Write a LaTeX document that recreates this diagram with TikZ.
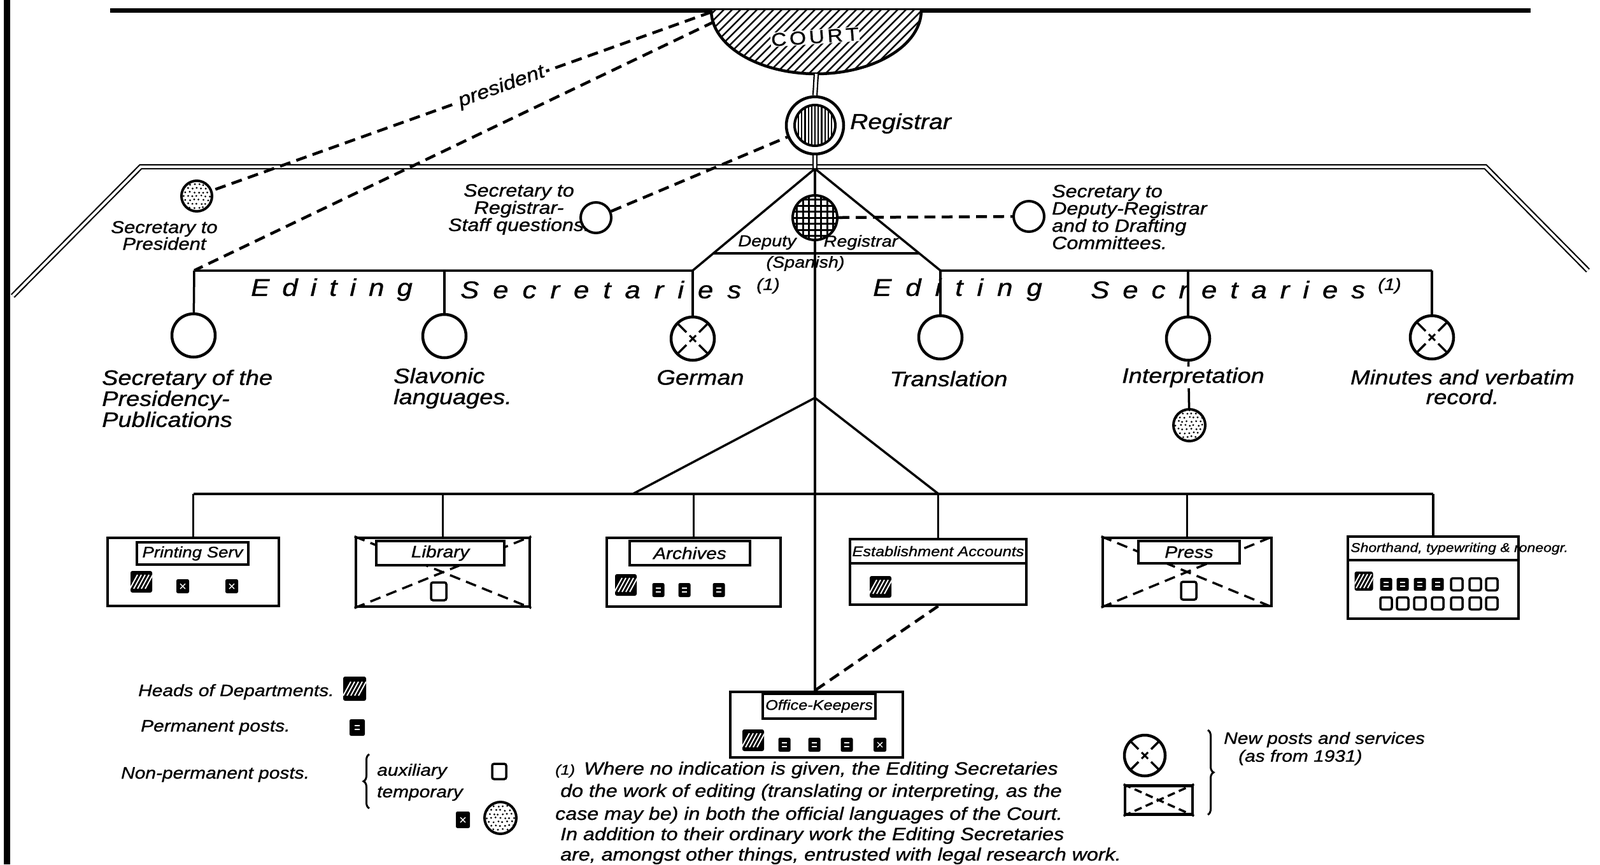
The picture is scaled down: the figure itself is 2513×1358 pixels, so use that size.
\documentclass[tikz,border=0pt]{standalone}
\usepackage{fontspec}
\setmainfont{Liberation Sans}[FakeStretch=1.15, FakeBold=1]
\usetikzlibrary{calc,decorations.pathreplacing}
\makeatletter
\newcommand\spreadword[2]{\@tfor\sw@c:=#2\do{\sw@c\hspace{#1}}\unskip}
\makeatother
\newcommand\myfs[2]{\fontsize{#1}{#2}\selectfont}
\begin{document}
\begin{tikzpicture}[x=1pt,y=-1pt,
  ln/.style={line width=3.5pt},
  dsh/.style={line width=4.5pt, dash pattern=on 17pt off 10pt},
  dblln/.style={double, line width=2.2pt, double distance=4pt},
  postc/.style={circle, draw, line width=4.5pt, minimum size=68pt, inner sep=0pt, fill=white},
  newpost/.style={postc, path picture={
    \foreach \a in {45,135,225,315}
      \draw[black, line width=3.5pt] ($(path picture bounding box.center)+(\a:14pt)$) -- ($(path picture bounding box.center)+(\a:40pt)$);
    \draw[black, line width=3pt] ($(path picture bounding box.center)+(-5pt,-5pt)$) -- ($(path picture bounding box.center)+(5pt,5pt)$)
      ($(path picture bounding box.center)+(-5pt,5pt)$) -- ($(path picture bounding box.center)+(5pt,-5pt)$);
  }},
  stip/.style={circle, draw, line width=4pt, inner sep=0pt, fill=white, path picture={
    \foreach \i in {-5,...,5}{\foreach \j in {-5,...,5}{
      \pgfmathsetmacro\xx{\i*7+3.5*mod(\j+10,2)+rnd*2-1}
      \pgfmathsetmacro\yy{\j*6+rnd*2-1}
      \fill[black] ($(path picture bounding box.center)+(\xx pt,\yy pt)$) circle (1.6pt);}}
  }},
  regst/.style={circle, draw, line width=4.5pt, minimum size=90pt, inner sep=0pt, fill=white, path picture={
    \draw[black, line width=4pt] (path picture bounding box.center) circle (32pt);
    \begin{scope}
      \clip (path picture bounding box.center) circle (31pt);
      \foreach \k in {-6,...,6}
        \draw[black, line width=2.2pt] ($(path picture bounding box.center)+(\k*5.2pt,-40pt)$) -- ++(0pt,80pt);
    \end{scope}
  }},
  depst/.style={circle, draw, line width=4pt, minimum size=70pt, inner sep=0pt, fill=white, path picture={
    \foreach \k in {-4,...,4}{
      \draw[black, line width=3pt] ($(path picture bounding box.center)+(\k*9.5pt,-40pt)$) -- ++(0pt,80pt);
      \draw[black, line width=3pt] ($(path picture bounding box.center)+(-40pt,\k*9.5pt)$) -- ++(80pt,0pt);}
  }},
  dept/.style={rectangle, draw, line width=4.5pt, inner sep=0pt},
  tabst/.style={rectangle, draw, line width=3.5pt, fill=white, inner sep=0pt, font=\myfs{26}{26}\itshape},
  headic/.style={rectangle, fill=black, rounded corners=3pt, minimum width=34pt, minimum height=34pt, inner sep=0pt,
    path picture={\foreach \k in {-2,...,2}
      \draw[white, line width=2pt] ($(path picture bounding box.center)+(\k*6pt-6pt,-11pt)$) -- ++(12pt,22pt);}},
  permic/.style={rectangle, fill=black, rounded corners=2.5pt, minimum width=19pt, minimum height=22pt, inner sep=0pt,
    path picture={\draw[white, line width=1.6pt] ($(path picture bounding box.center)+(-4pt,3pt)$) -- ++(8pt,0pt)
      ($(path picture bounding box.center)+(-4pt,-3pt)$) -- ++(8pt,0pt);}},
  auxic/.style={rectangle, draw, line width=3.5pt, fill=white, rounded corners=3pt, minimum width=20pt, minimum height=24pt, inner sep=0pt},
  tempic/.style={rectangle, fill=black, rounded corners=2.5pt, minimum width=20pt, minimum height=22pt, inner sep=0pt,
    path picture={\draw[white, line width=1.4pt] ($(path picture bounding box.center)+(-4pt,-4pt)$) -- ++(8pt,8pt)
      ($(path picture bounding box.center)+(-4pt,4pt)$) -- ++(8pt,-8pt);}},
  lbl/.style={font=\myfs{33}{33}\itshape, inner sep=0pt},
  sm/.style={font=\myfs{28}{26}\itshape, inner sep=0pt},
  lg/.style={font=\myfs{26}{26}\itshape, inner sep=0pt},
  fn/.style={font=\myfs{28}{34}\itshape, inner sep=0pt, anchor=base west},
  edt/.style={font=\myfs{38}{38}\itshape, inner sep=0pt, anchor=west},
  note/.style={font=\myfs{26}{26}\itshape, inner sep=0pt, anchor=west},
  dl/.style={font=\myfs{25}{25}\itshape, inner sep=0pt}
]
\useasboundingbox (0,0) rectangle (2513,1358);
\fill[white] (0,0) rectangle (2513,1358);

% frame lines
\draw[line width=10pt] (11,0) -- (11,1358);
\draw[line width=7pt] (173,16) -- (2404,16);
\draw[dblln] (20,465) -- (221,262) -- (2333,262) -- (2494,425);

% court
\fill[white] (1117,16) arc[start angle=180, end angle=360, x radius=165pt, y radius=100pt] -- cycle;
\begin{scope}
  \clip (1117,16) arc[start angle=180, end angle=360, x radius=165pt, y radius=100pt] -- cycle;
  \foreach \k in {0,...,42} \draw[line width=2.5pt] ({995+\k*13},118) -- ++(110,-110);
\end{scope}
\draw[line width=4.5pt] (1117,16) arc[start angle=180, end angle=360, x radius=165pt, y radius=100pt];
\node[font=\myfs{29}{29}, fill=white, inner sep=1pt, rotate=4] (court) at (1280,58) {C\,O\,U\,R\,T};
\coordinate (courtbot) at (1282,116);
\coordinate (cl1) at (1117,19);
\coordinate (cl2) at (1122,34);

% registrar and deputy
\node[regst] (reg) at (1280,197) {};
\node[anchor=west, font=\myfs{34}{34}\itshape, inner sep=0pt] (reglbl) at (1335,194) {Registrar};
\coordinate (apex) at (1280,265);
\draw[dblln] (courtbot) -- (reg.north);
\draw[dblln] (reg.south) -- (apex);

\coordinate (lbarR) at (1088,425);
\coordinate (lbarL) at (305,425);
\coordinate (rbarL) at (1477,425);
\coordinate (rbarR) at (2249,425);
\draw[ln] (apex) -- (lbarR) -- (lbarL);
\draw[ln] (apex) -- (rbarL) -- (rbarR);
\draw[ln] ($(apex)!0.83!(lbarR)$) -- ($(apex)!0.83!(rbarL)$);

\node[depst] (dep) at (1280,342) {};
\draw[ln] (apex) -- (dep.north);
\node[dl] (deplbl1) at (1205,381) {Deputy};
\node[dl] (deplbl2) at (1352,381) {Registrar};
\node[dl] (deplbl3) at (1265,414) {(Spanish)};

% secretaries
\node[stip, minimum size=48pt] (secpres) at (309,308) {};
\node[sm, align=center, font=\myfs{27}{23}\itshape] (secpreslbl) at (258,370) {Secretary to\\President};
\node[postc, minimum size=48pt, line width=4pt] (secreg) at (936,342) {};
\node[sm, align=center] (secreglbl) at (815,329) {Secretary to\\Registrar-\\Staff questions.};
\node[postc, minimum size=48pt, line width=4pt] (secdep) at (1616,340) {};
\node[sm, align=left, anchor=west] (secdeplbl) at (1652,341) {Secretary to\\Deputy-Registrar\\and to Drafting\\Committees.};

\draw[dsh] (cl1) -- (secpres) node[pos=0.42, sloped, fill=white, inner sep=3pt, font=\myfs{30}{30}\itshape] (preslbl) {president};
\draw[dsh] (cl2) -- (lbarL);
\draw[dsh] (secreg) -- (reg);
\draw[dsh] (dep) -- (secdep);

% editing secretaries
\node[postc] (c1) at (304,527) {};
\node[postc] (c2) at (698,528) {};
\node[newpost] (c3) at (1088,532) {};
\node[postc] (c4) at (1477,530) {};
\node[postc] (c5) at (1866,532) {};
\node[newpost] (c6) at (2249,530) {};
\node[stip, minimum size=50pt] (c5b) at (1868,668) {};
\draw[ln] (lbarL) -- (c1);
\draw[ln] (c2 |- lbarL) -- (c2);
\draw[ln] (lbarR) -- (c3);
\draw[ln] (rbarL) -- (c4);
\draw[ln] (c5 |- rbarL) -- (c5);
\draw[ln] (rbarR) -- (c6);
\draw[ln] (c5) -- (c5b);

\node[edt] (ed1) at (394,455) {\spreadword{20pt}{Editing}};
\node[edt] (se1) at (723,455) {\spreadword{22pt}{Secretaries}};
\node[note] (n1) at (1188,449) {(1)};
\node[edt] (ed2) at (1371,455) {\spreadword{22pt}{Editing}};
\node[edt] (se2) at (1713,455) {\spreadword{21pt}{Secretaries}};
\node[note] (n2) at (2164,449) {(1)};

\node[lbl, align=left, anchor=west] (l1) at (160,626) {Secretary of the\\Presidency-\\Publications};
\node[lbl, align=left, anchor=west] (l2) at (618,610) {Slavonic\\languages.};
\node[lbl] (l3) at (1100,593) {German};
\node[lbl] (l4) at (1490,595) {Translation};
\node[lbl, fill=white, inner sep=2pt] (l5) at (1874,593) {Interpretation};
\node[lbl, align=center, font=\myfs{32}{31}\itshape] (l6) at (2297,608) {Minutes and verbatim\\record.};

% services
\coordinate (fork) at (1280,625);
\coordinate (bl) at (304,776);
\coordinate (br) at (2251,776);
\coordinate (fl) at (994,776);
\coordinate (fr) at (1474,776);
\draw[ln] (fl) -- (fork) -- (fr);
\draw[ln] (bl) -- (br);

\node[dept, minimum width=269pt, minimum height=107pt] (print) at (303.5,898.5) {};
\node[dept, minimum width=273pt, minimum height=108pt] (lib) at (695.5,899) {};
\node[dept, minimum width=273pt, minimum height=108pt] (arch) at (1089.5,899) {};
\node[dept, minimum width=277pt, minimum height=103pt] (estab) at (1473.5,898.5) {};
\node[dept, minimum width=265pt, minimum height=107pt] (press) at (1864.5,898.5) {};
\node[dept, minimum width=268pt, minimum height=129pt] (short) at (2251,907.5) {};
\node[dept, minimum width=271pt, minimum height=103pt] (office) at (1282.5,1138.5) {};

\draw[ln] (print |- bl) -- (print.north);
\draw[ln] (lib |- bl) -- (lib.north);
\draw[ln] (arch |- bl) -- (arch.north);
\draw[ln] (estab |- bl) -- (estab.north);
\draw[ln] (press |- bl) -- (press.north);
\draw[ln] (short |- bl) -- (short.north);
\draw[ln] (dep) -- (dep |- office.north);
\draw[dsh] (estab.south) -- (dep |- office.north);

\draw[dsh, line width=3.5pt] (lib.south west) -- (lib.north east) (lib.north west) -- (lib.south east);
\draw[dsh, line width=3.5pt] (press.south west) -- (press.north east) (press.north west) -- (press.south east);

\node[tabst, minimum width=175pt, minimum height=35pt, font=\myfs{24}{24}\itshape] (printtab) at (302.5,869.5) {Printing Serv};
\node[tabst, minimum width=201pt, minimum height=38pt] (libtab) at (691.5,869) {Library};
\node[tabst, minimum width=189pt, minimum height=38pt] (archtab) at (1083.5,869) {Archives};
\node[tabst, minimum width=277pt, minimum height=38pt, font=\myfs{22}{22}\itshape] (estabtab) at (1473.5,866) {Establishment Accounts};
\node[tabst, minimum width=159pt, minimum height=35pt] (presstab) at (1867.5,867.5) {Press};
\node[tabst, minimum width=268pt, minimum height=37pt] (shorttab) at (2251,861.5) {};
\node[anchor=west, font=\myfs{20}{20}\itshape, inner sep=0pt] (shortlbl) at (2121,862) {Shorthand, typewriting \& roneogr.};
\node[tabst, minimum width=177pt, minimum height=39pt, font=\myfs{22}{22}\itshape] (officetab) at (1286.5,1109.5) {Office-Keepers};

% staff icons
\node[headic] (p1) at (222,914) {};
\node[tempic] (p2) at (287,921) {};
\node[tempic] (p3) at (364,921) {};
\node[auxic, minimum width=24pt, minimum height=28pt] (lb1) at (689,929) {};
\node[headic] (a1) at (983,919) {};
\node[permic] (a2) at (1034,927) {};
\node[permic] (a3) at (1075,927) {};
\node[permic] (a4) at (1129,927) {};
\node[headic] (e1) at (1383,922) {};
\node[auxic, minimum width=24pt, minimum height=28pt] (pr1) at (1867,928) {};
\node[headic, minimum width=29pt, minimum height=30pt] (s0) at (2142,913) {};
\foreach \x [count=\n] in {2177,2203,2230,2258} \node[permic, minimum width=19pt, minimum height=20pt] (sa\n) at (\x,918) {};
\foreach \x [count=\n] in {2288,2317,2343} \node[auxic, minimum width=18pt, minimum height=19pt] (sb\n) at (\x,918) {};
\foreach \x [count=\n] in {2177,2203,2230,2258,2288,2317,2343} \node[auxic, minimum width=18pt, minimum height=19pt] (sc\n) at (\x,948) {};
\node[headic] (o1) at (1183,1163) {};
\node[permic] (o2) at (1232,1170) {};
\node[permic] (o3) at (1279,1170) {};
\node[permic] (o4) at (1330,1170) {};
\node[tempic] (o5) at (1382,1170) {};

% legend
\node[lg, anchor=west] (lg1) at (217,1087) {Heads of Departments.};
\node[headic, minimum width=36pt, minimum height=38pt] (lg1i) at (557,1082) {};
\node[lg, anchor=west] (lg2) at (221,1143) {Permanent posts.};
\node[permic, minimum width=24pt, minimum height=26pt] (lg2i) at (561,1143) {};
\node[lg, anchor=west] (lg3) at (190,1217) {Non-permanent posts.};
\draw[line width=3pt, decorate, decoration={brace, amplitude=9pt}] (580,1270) -- (580,1185);
\node[lg, anchor=west] (lg4) at (592,1212) {auxiliary};
\node[auxic, minimum width=22pt, minimum height=24pt] (lg4i) at (784,1212) {};
\node[lg, anchor=west] (lg5) at (592,1247) {temporary};
\node[tempic, minimum width=22pt, minimum height=26pt] (lg5i) at (727,1288) {};
\node[stip, minimum size=50pt] (lg5c) at (786,1285) {};

\node[newpost, minimum size=64pt] (lgnew) at (1798,1187) {};
\node[dept, minimum width=106pt, minimum height=45pt] (lgenv) at (1820,1257) {};
\draw[dsh, line width=3.5pt, dash pattern=on 12pt off 7pt] (lgenv.south west) -- (lgenv.north east) (lgenv.north west) -- (lgenv.south east);
\draw[line width=3pt, decorate, decoration={brace, amplitude=9pt}] (1897,1147) -- (1897,1280);
\node[lg, anchor=west] (lg6) at (1922,1162) {New posts and services};
\node[lg, anchor=west] (lg7) at (1945,1190) {(as from 1931)};

% footnote
\node[fn] (f1) at (872,1217) {{\myfs{22}{22}(1)}\enspace Where no indication is given, the Editing Secretaries};
\node[fn] (f2) at (880,1252) {do the work of editing (translating or interpreting, as the};
\node[fn] (f3) at (872,1288) {case may be) in both the official languages of the Court.};
\node[fn] (f4) at (880,1320) {In addition to their ordinary work the Editing Secretaries};
\node[fn] (f5) at (880,1352) {are, amongst other things, entrusted with legal research work.};
\end{tikzpicture}
\end{document}
